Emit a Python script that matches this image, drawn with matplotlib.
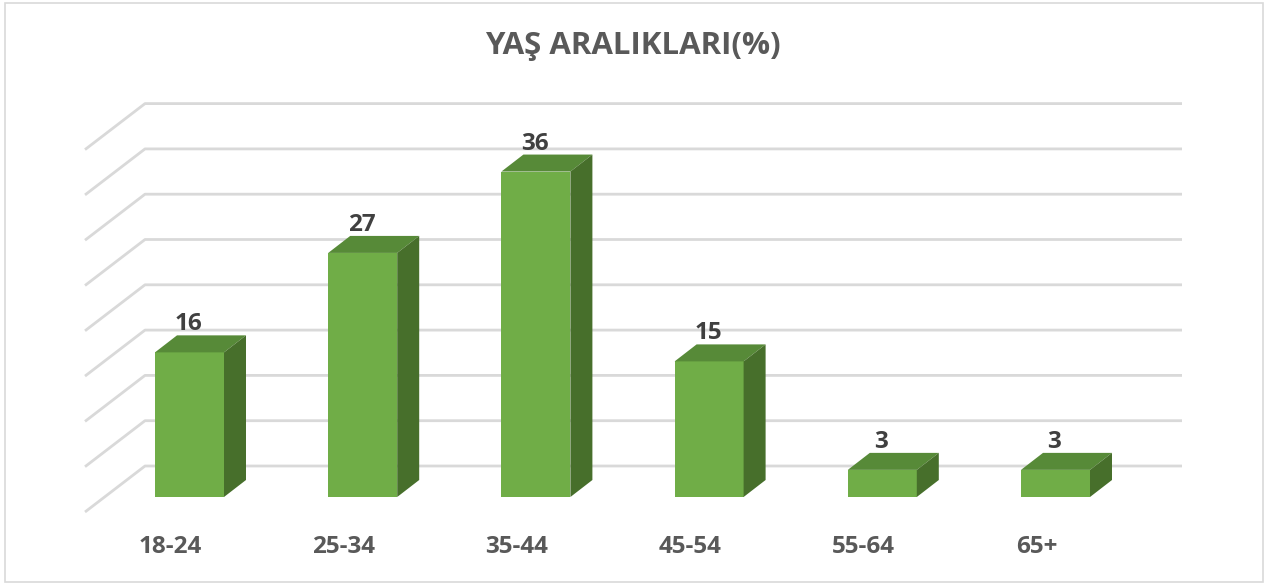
import matplotlib
matplotlib.use("Agg")
import matplotlib.pyplot as plt
from matplotlib.patches import Polygon, Rectangle

categories = ["18-24", "25-34", "35-44", "45-54", "55-64", "65+"]
values = [16, 27, 36, 15, 3, 3]
title = "YAŞ ARALIKLARI(%)"
grid_values = [0, 5, 10, 15, 20, 25, 30, 35, 40]

FRONT = "#70AD47"
TOP = "#578A38"
SIDE = "#476F2B"
GRID = "#D9D9D9"
TXT = "#595959"
LBL = "#404040"

fig = plt.figure(figsize=(12.8, 5.85), dpi=100)
ax = fig.add_axes([0, 0, 1, 1])
# pixel mapping: category i center at 189.5 + 173.2*i px ; value v at 497 - 9.04*v px
sx, sy = 173.2, 9.04
ax.set_xlim(-189.5 / sx, (1280 - 189.5) / sx)
ax.set_ylim(-(585 - 497) / sy, 497 / sy)
ax.axis("off")

# 3D geometry (data units)
hw = 34.5 / sx
ddx, ddy = 22 / sx, 17 / sy
wall_y0 = 31 / sy
wall_x0, wall_x1 = (145 - 189.5) / sx, (1182 - 189.5) / sx
diag_dx, diag_dy = -60 / sx, -46 / sy

for g in grid_values:
    yb = wall_y0 + g * (45.3 / 5) / sy
    ax.plot([wall_x0 + diag_dx, wall_x0, wall_x1], [yb + diag_dy, yb, yb],
            color=GRID, lw=2.0, solid_capstyle="butt", zorder=1)

for i, (c, v) in enumerate(zip(categories, values)):
    x0, x1 = i - hw, i + hw
    front = Polygon([(x0, 0), (x1, 0), (x1, v), (x0, v)], closed=True,
                    fc=FRONT, ec="none", zorder=3)
    top = Polygon([(x0, v), (x1, v), (x1 + ddx, v + ddy), (x0 + ddx, v + ddy)],
                  closed=True, fc=TOP, ec="none", zorder=3)
    side = Polygon([(x1, 0), (x1 + ddx, ddy), (x1 + ddx, v + ddy), (x1, v)],
                   closed=True, fc=SIDE, ec="none", zorder=3)
    for p in (front, top, side):
        ax.add_patch(p)
    ax.text(i - 1 / sx, v + 28 / sy, str(v), ha="center", va="center", fontsize=17.5,
            fontweight="bold", color=LBL, family="Open Sans", zorder=4)
    ax.text(i - 19 / sx, -(547 - 497) / sy, c, ha="center", va="center",
            fontsize=17.5, fontweight="bold", color=TXT, family="Open Sans", zorder=4)

fig.text(633 / 1280, 1 - 46 / 585, title, ha="center", va="center", fontsize=22.5,
         fontweight="bold", color=TXT, family="Open Sans")

fig.patches.append(Rectangle((4.5 / 1280, 3 / 585), (1263 - 4.5) / 1280, (582 - 3) / 585,
                             transform=fig.transFigure, fill=False, ec="#D9D9D9", lw=1.2))

fig.savefig("out.png", dpi=100, facecolor="white")
